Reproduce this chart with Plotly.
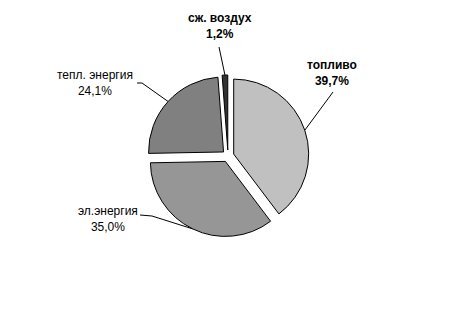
import math
import plotly.graph_objects as go

labels = ["топливо", "эл.энергия", "тепл. энергия", "сж. воздух"]
values = [39.7, 35.0, 24.1, 1.2]
colors = ["#C0C0C0", "#969696", "#808080", "#333333"]
bold = [True, False, False, True]

W, H = 459, 314
cx, cy = 228, 156          # pie centre in pixels (top-left origin)
pull = 0.08
R = 81                     # outer extent incl. pull, px

fig = go.Figure()
fig.add_trace(go.Pie(
    labels=labels, values=values, sort=False, direction="clockwise", rotation=0,
    marker=dict(colors=colors, line=dict(color="black", width=1)),
    pull=[pull] * len(values), textinfo="none", hoverinfo="skip", showlegend=False,
    domain=dict(x=[(cx - R) / W, (cx + R) / W], y=[(H - cy - R) / H, (H - cy + R) / H]),
))

# label positions (px, centre of the two-line text) and leader elbows
label_pos = [(332, 73), (108, 219), (95, 83), (220, 26)]
line_start = [[(333, 92)], [(140, 215), (152, 216)], [(137, 83), (142, 83)], [(219, 47)]]

total = sum(values)
acc = 0
shapes = []
annotations = []
for i, v in enumerate(values):
    mid = (acc + v / 2) / total * 2 * math.pi
    acc += v
    ex = cx + R * math.sin(mid)
    ey = cy - R * math.cos(mid)
    pts = line_start[i] + [(ex, ey)]
    path = "M " + " L ".join(f"{x / W},{(H - y) / H}" for x, y in pts)
    shapes.append(dict(type="path", path=path, xref="paper", yref="paper",
                       line=dict(color="black", width=1)))
    pct = f"{v:.1f}%".replace(".", ",")
    txt = f"{labels[i]}<br>{pct}"
    if bold[i]:
        txt = f"<b>{txt}</b>"
    lx, ly = label_pos[i]
    annotations.append(dict(x=lx / W, y=(H - ly) / H, xref="paper", yref="paper",
                            text=txt, showarrow=False, xanchor="center", yanchor="middle",
                            font=dict(family="Liberation Sans, Arial", size=12, color="black")))

fig.update_layout(
    width=W, height=H, margin=dict(l=0, r=0, t=0, b=0),
    paper_bgcolor="white", plot_bgcolor="white",
    shapes=shapes, annotations=annotations,
)
fig.write_html("out.html")
